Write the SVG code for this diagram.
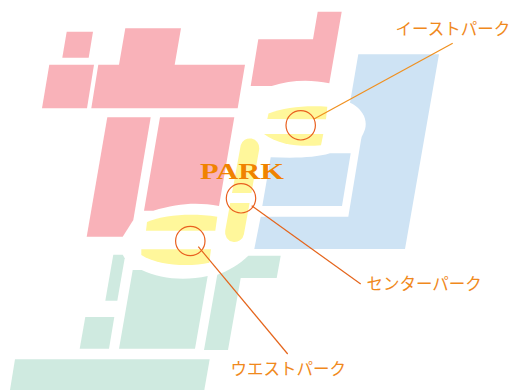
<svg xmlns="http://www.w3.org/2000/svg" width="511" height="390" viewBox="0 0 511 390">
<style>
.pink{fill:#f9b2b9}
.blue{fill:#cee3f4}
.green{fill:#cfeae0}
.yellow{fill:#fff79b}
.ring{fill:none;stroke:#e9601f;stroke-width:1.2}
.lead{fill:none;stroke:#e5651c;stroke-width:1.2}
.lead2{fill:none;stroke:#f0901f;stroke-width:1.2}
.lab{font-family:"Noto Sans CJK JP","Noto Sans",sans-serif;font-size:16.5px;font-weight:400;fill:#f0891c}
.park{font-family:"Liberation Serif",serif;font-size:24px;font-weight:700;fill:#f08300}
</style>
<g id="area-north">
<path class="pink" d="M66.7 31.7H93L88.7 57.7H62.3Z"/>
<path class="pink" d="M49.3 64.7H94L87 108.3H42Z"/>
<path class="pink" d="M125.3 28.3H181L174.7 64.7H245L237.7 108.3H91.3L98.3 64.7H119Z"/>
<path class="pink" d="M107.3 117.3H150.7L133.3 220L122.7 236.7H86.7Z"/>
<path class="pink" d="M160 117.3H234.3L219 206C198 202 178 203 153.3 210.7H144Z"/>
<path class="pink" d="M317.7 11.7H341.7L329.3 83.3C310 79 290 80 271.7 86H250.7L258.3 39.3H313Z"/>
</g>
<g id="area-east">
<path class="blue" d="M358.3 54.3H439L405 249H254.3L260.7 216.7H348.3L361 140L361.7 136.7C366 129 367 124 364 116C361 110 356 105 350 102.7Z"/>
<path class="blue" d="M270.7 157.3C295 158 315 158 330 153.3H350.7L342 206H262.3Z"/>
</g>
<g id="area-south">
<path class="green" d="M113.3 254.7H122.7L124.7 258.3L117.3 300.7H105.3Z"/>
<path class="green" d="M85.3 317H114.3L109 348.7H79.7Z"/>
<path class="green" d="M132.7 270H141.7C160 279 185 281 207.7 276L195 348.7H119Z"/>
<path class="green" d="M217.3 274.7C228 271 240 264 248.3 255.7H280.7L276.7 278H240.7L228 350H204Z"/>
<path class="green" d="M15 359.3H209.7L204.3 390H10Z"/>
</g>
<g id="park-east">
<path class="yellow" d="M267.3 119L268.5 113.5C285 107 305 105.5 327.3 106.7L326 119.3Z"/>
<path class="yellow" d="M264 134H323.3L321 145.3C300 147 278 145 264 134Z"/>
</g>
<g id="park-center">
<path class="yellow" d="M232 193L240.7 145.3A9.5 9.5 0 0 1 259.3 148.7L251.4 193Z"/>
<path class="yellow" d="M230.2 203H249.6L243.9 234.2A9.5 9.5 0 0 1 225.2 230.8Z"/>
</g>
<g id="park-west">
<path class="yellow" d="M146 230.7L147 222C165 215 190 213 217.3 216.7L215.3 230.7Z"/>
<path class="yellow" d="M141.3 249.3H211L209.3 262.7C190 267 158 266 141.3 255Z"/>
</g>
<g id="park-title"><text class="park" x="200" y="179" textLength="84" lengthAdjust="spacingAndGlyphs">PARK</text></g>
<g id="connectors">
<path class="lead2" d="M452.7 43.3L314 119"/>
<path class="lead" d="M360.7 284L251.7 205.7"/>
<path class="lead" d="M287.7 354L198.3 246.7"/>
</g>
<g id="ring-east"><circle class="ring" cx="300.7" cy="125.3" r="14.7"/></g>
<g id="ring-center"><circle class="ring" cx="241" cy="198.3" r="14.7"/></g>
<g id="ring-west"><circle class="ring" cx="190.3" cy="241" r="14.7"/></g>
<g id="labels">
<text class="lab" x="395.5" y="34.5">イーストパーク</text>
<text class="lab" x="366.5" y="290">センターパーク</text>
<text class="lab" x="230.5" y="375">ウエストパーク</text>
</g>
</svg>
